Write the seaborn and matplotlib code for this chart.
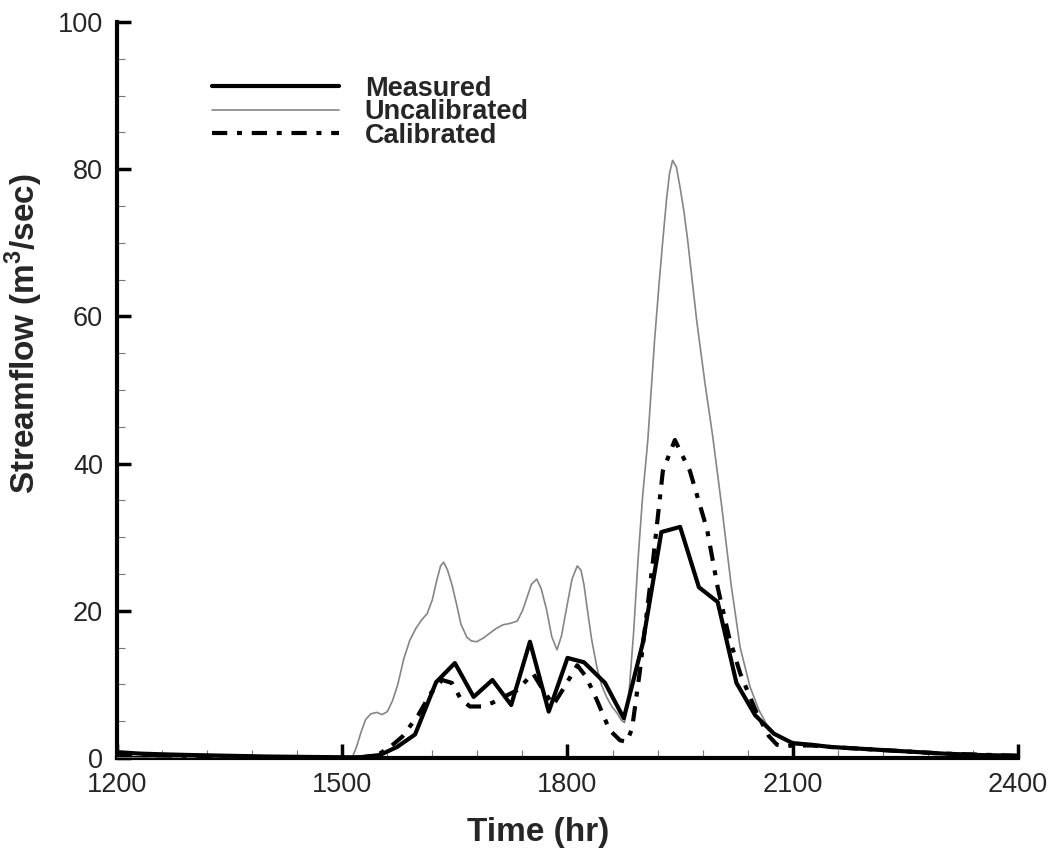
import matplotlib
matplotlib.use("Agg")
import matplotlib.pyplot as plt
from matplotlib.ticker import MultipleLocator
import seaborn as sns
import pandas as pd

# ---- data ----
meas_t = [1200, 1215, 1230, 1260, 1300, 1400, 1500, 1523, 1550, 1573, 1597, 1625, 1650,
          1675, 1700, 1725, 1750, 1775, 1800, 1822, 1850, 1875, 1900, 1925, 1950, 1975,
          2000, 2025, 2050, 2075, 2100, 2125, 2150, 2200, 2250, 2300, 2350, 2400]
meas_q = [0.8, 0.7, 0.6, 0.5, 0.4, 0.2, 0.1, 0.1, 0.4, 1.5, 3.2, 10.3, 12.9,
          8.3, 10.6, 7.2, 15.8, 6.3, 13.6, 13.0, 10.2, 5.4, 15.5, 30.7, 31.4, 23.2,
          21.2, 10.2, 5.8, 3.3, 2.0, 1.8, 1.5, 1.2, 0.9, 0.6, 0.4, 0.3]

uncal_t = [1200, 1500, 1513, 1519, 1525, 1531, 1538, 1546, 1553, 1560, 1567, 1574, 1582,
           1590, 1598, 1606, 1613, 1620, 1626, 1631, 1635, 1640, 1646, 1652, 1658, 1666,
           1672, 1679, 1688, 1697, 1705, 1714, 1724, 1733, 1740, 1746, 1752, 1759, 1765,
           1772, 1779, 1786, 1792, 1799, 1806, 1813, 1818, 1822, 1826, 1832, 1839, 1845,
           1852, 1859, 1866, 1872, 1876, 1882, 1888, 1894, 1900, 1907, 1916, 1922, 1927,
           1932, 1936, 1940, 1945, 1950, 1955, 1960, 1972, 1983, 1993, 2005, 2018, 2030,
           2043, 2055, 2065, 2080, 2096, 2130, 2216, 2283, 2400]
uncal_q = [0.0, 0.0, 0.0, 1.5, 3.5, 5.2, 6.0, 6.2, 5.9, 6.3, 7.8, 10.0, 13.5,
           16.0, 17.6, 18.8, 19.6, 21.5, 24.2, 26.1, 26.6, 25.6, 23.6, 21.0, 18.2, 16.4,
           15.9, 15.8, 16.3, 17.0, 17.6, 18.1, 18.3, 18.6, 20.0, 21.8, 23.6, 24.3, 23.0,
           20.2, 16.5, 14.7, 16.6, 20.5, 24.3, 26.1, 25.5, 23.5, 20.5, 16.2, 12.4, 10.0,
           8.3, 7.0, 6.1, 5.1, 4.8, 9.0, 17.0, 27.0, 35.5, 43.2, 56.8, 64.5, 70.4,
           76.0, 79.5, 81.2, 80.3, 77.5, 74.3, 70.4, 59.5, 51.0, 44.0, 34.5, 23.5, 15.0,
           9.7, 6.5, 4.6, 3.0, 2.3, 1.8, 1.1, 0.7, 0.2]

cal_t = [1200, 1230, 1300, 1400, 1500, 1530, 1550, 1565, 1580, 1601, 1618, 1633, 1646,
         1658, 1670, 1685, 1700, 1715, 1733, 1754, 1766, 1781, 1795, 1813, 1825, 1839,
         1856, 1870, 1879, 1886, 1896, 1914, 1927, 1943, 1963, 1986, 2000, 2015, 2030,
         2052, 2068, 2079, 2090, 2100, 2125, 2150, 2200, 2250, 2300, 2400]
cal_q = [0.6, 0.4, 0.3, 0.1, 0.0, 0.1, 0.6, 1.6, 2.9, 5.8, 8.8, 10.6, 10.2,
         8.0, 7.0, 7.0, 7.5, 8.3, 9.2, 11.5, 9.5, 7.2, 9.5, 12.6, 11.0, 7.9,
         3.8, 2.4, 2.2, 4.0, 11.5, 26.9, 39.0, 43.2, 39.0, 31.0, 23.2, 16.5, 11.5,
         6.1, 3.0, 1.8, 1.6, 1.7, 1.7, 1.5, 1.2, 0.9, 0.6, 0.3]

series_names = ["Measured", "Uncalibrated", "Calibrated"]
x_ticks = [1200, 1500, 1800, 2100, 2400]
y_ticks = [0, 20, 40, 60, 80, 100]

# ---- style ----
sns.set_style("ticks")
plt.rcParams["font.family"] = ["Liberation Sans", "DejaVu Sans"]
plt.rcParams["mathtext.fontset"] = "custom"
plt.rcParams["mathtext.bf"] = "Liberation Sans:bold"
plt.rcParams["mathtext.rm"] = "Liberation Sans"
plt.rcParams["lines.scale_dashes"] = False
plt.rcParams["lines.solid_joinstyle"] = "round"

fig = plt.figure(figsize=(10.57, 8.49), dpi=100)
ax = fig.add_axes([117/1057, 1 - 758/849, (1018-117)/1057, (758-22)/849])

df_m = pd.DataFrame({"t": meas_t, "q": meas_q})
df_u = pd.DataFrame({"t": uncal_t, "q": uncal_q})
df_c = pd.DataFrame({"t": cal_t, "q": cal_q})

sns.lineplot(data=df_m, x="t", y="q", ax=ax, color="black", lw=3.0,
             label=series_names[0], zorder=4)
sns.lineplot(data=df_u, x="t", y="q", ax=ax, color="#858585", lw=1.2,
             label=series_names[1], zorder=3)
sns.lineplot(data=df_c, x="t", y="q", ax=ax, color="black", lw=3.0,
             label=series_names[2], zorder=3)
ax.lines[2].set_linestyle((0, (11, 7, 3.6, 7)))

ax.set_xlim(1200, 2400)
ax.set_ylim(0, 100)
ax.xaxis.set_major_locator(MultipleLocator(300))
ax.xaxis.set_minor_locator(MultipleLocator(60))
ax.yaxis.set_major_locator(MultipleLocator(20))
ax.yaxis.set_minor_locator(MultipleLocator(5))
ax.set_xticks(x_ticks)
ax.set_yticks(y_ticks)

for s in ["top", "right"]:
    ax.spines[s].set_visible(False)
for s in ["left", "bottom"]:
    ax.spines[s].set_linewidth(3.0)
    ax.spines[s].set_color("black")

ax.tick_params(which="major", direction="in", length=10, width=2.5, color="black",
               labelsize=19.5, pad=10)
ax.tick_params(which="minor", direction="in", length=6, width=0.8, color="#777777")

ax.set_xlabel("Time (hr)", fontsize=24, fontweight="bold")
ax.set_ylabel(r"Streamflow (m$^{\mathbf{3}}$/sec)", fontsize=24, fontweight="bold")
ax.xaxis.set_label_coords(0.467, -0.080)
ax.yaxis.set_label_coords(-0.080, 0.576)

leg = ax.legend(loc="upper left", bbox_to_anchor=(0.105, 0.927), frameon=False,
                handlelength=4.7, handletextpad=0.95, labelspacing=-0.09,
                borderpad=0, borderaxespad=0, prop={"weight": "bold", "size": 19.5})

fig.savefig("out.png", dpi=100)
